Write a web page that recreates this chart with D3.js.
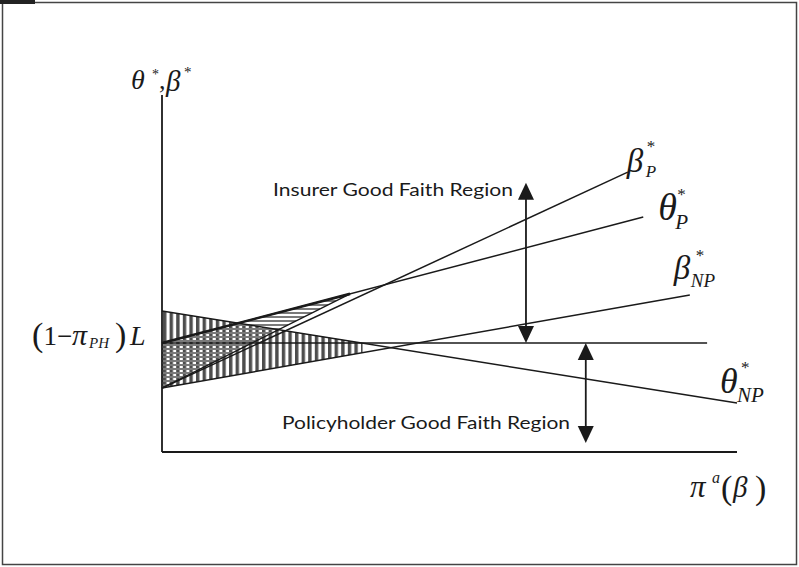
<!DOCTYPE html>
<html>
<head>
<meta charset="utf-8">
<script src="https://cdn.jsdelivr.net/npm/d3@7"></script>
<style>
  html, body { margin: 0; padding: 0; background: #fff; }
  svg { display: block; }
  .serif { font-family: "Liberation Serif", "DejaVu Serif", serif; fill: #1a1a1a; }
  .sans { font-family: Lato, "Open Sans", sans-serif; fill: #1a1a1a; }
</style>
</head>
<body>
<div id="chart"></div>
<script>
// Schema-Diagramm: Good-Faith-Regionen (Achsen ohne Skalenwerte, Einheiten 0..100)
const width = 799;
const height = 567;

// Linien: Wert bei x = 0 und Endpunkt
const lineNames = ["betaP", "thetaP", "betaNP", "thetaNP"];
const lineStartY = [17.9, 30.5, 17.9, 39.5];
const lineEndX = [81.0, 83.7, 91.8, 100];
const lineEndY = [78.4, 65.8, 44.0, 13.7];

// waagerechte Linie (1 - pi_PH) L
const baseLevel = 30.5;
const baseEndX = 94.8;

// Sehne vom Startpunkt der beta-Linien zur theta_P-Linie
const chordEndX = 32.7;

// Doppelpfeile
const arrowX = [63.3, 73.7];
const arrowFrom = [30.5, 30.5];
const arrowTo = [75.4, 2.5];

const regionLabels = ["Insurer Good Faith Region", "Policyholder Good Faith Region"];

const x = d3.scaleLinear().domain([0, 100]).range([162, 737]);
const y = d3.scaleLinear().domain([0, 100]).range([452, 95]);

// y-Wert einer Linie an Stelle xv
function lineAt(i, xv) {
  return lineStartY[i] + (lineEndY[i] - lineStartY[i]) / lineEndX[i] * xv;
}
const idx = (name) => lineNames.indexOf(name);

const svg = d3.select("#chart").append("svg")
  .attr("width", width)
  .attr("height", height);

// Rahmen
svg.append("rect")
  .attr("x", 2.5).attr("y", 2.5)
  .attr("width", 794).attr("height", 562)
  .attr("fill", "none").attr("stroke", "#444").attr("stroke-width", 1.5);
svg.append("rect")
  .attr("x", 0).attr("y", 0).attr("width", 35).attr("height", 4)
  .attr("fill", "#222");

// Schraffuren
const defs = svg.append("defs");
const vPat = defs.append("pattern")
  .attr("id", "vhatch").attr("patternUnits", "userSpaceOnUse")
  .attr("x", 163).attr("y", 0).attr("width", 6.6).attr("height", 10);
vPat.append("rect").attr("x", 0).attr("y", 0).attr("width", 3.4).attr("height", 10)
  .attr("fill", "#4d4d4d");

const hPat = defs.append("pattern")
  .attr("id", "hhatch").attr("patternUnits", "userSpaceOnUse")
  .attr("x", 0).attr("y", 0).attr("width", 10).attr("height", 4);
hPat.append("rect").attr("x", 0).attr("y", 0).attr("width", 10).attr("height", 2)
  .attr("fill", "#7a7a7a");

const tp = idx("thetaP"), tnp = idx("thetaNP"), bnp = idx("betaNP");
const xc = (lineStartY[tnp] - baseLevel) / ((lineStartY[tnp] - lineEndY[tnp]) / lineEndX[tnp]);

const vertPoly = [
  [0, lineStartY[tnp]],
  [xc, baseLevel],
  [xc, lineAt(bnp, xc)],
  [0, lineStartY[bnp]]
];
const horPoly = [
  [0, baseLevel],
  [chordEndX, lineAt(tp, chordEndX)],
  [0, lineStartY[0]]
];

const polyPath = (pts) => "M" + pts.map(p => `${x(p[0])},${y(p[1])}`).join("L") + "Z";

svg.append("path").attr("d", polyPath(vertPoly)).attr("fill", "url(#vhatch)");
svg.append("path").attr("d", polyPath(horPoly)).attr("fill", "url(#hhatch)");

// Achsen
svg.append("line")
  .attr("x1", x(0)).attr("y1", y(0)).attr("x2", x(0)).attr("y2", y(100))
  .attr("stroke", "#1a1a1a").attr("stroke-width", 1.8);
svg.append("line")
  .attr("x1", x(0)).attr("y1", y(0)).attr("x2", x(100)).attr("y2", y(0))
  .attr("stroke", "#1a1a1a").attr("stroke-width", 1.8);

// waagerechte Linie
svg.append("line")
  .attr("x1", x(0)).attr("y1", y(baseLevel)).attr("x2", x(baseEndX)).attr("y2", y(baseLevel))
  .attr("stroke", "#1a1a1a").attr("stroke-width", 1.5);

// Gleichgewichtslinien
svg.selectAll("line.curve")
  .data(lineNames)
  .enter().append("line")
  .attr("class", "curve")
  .attr("x1", x(0))
  .attr("y1", (d, i) => y(lineStartY[i]))
  .attr("x2", (d, i) => x(lineEndX[i]))
  .attr("y2", (d, i) => y(lineEndY[i]))
  .attr("stroke", "#1a1a1a").attr("stroke-width", 1.5);

// Sehne und verstärkte Oberkante
svg.append("line")
  .attr("x1", x(0)).attr("y1", y(lineStartY[0]))
  .attr("x2", x(chordEndX)).attr("y2", y(lineAt(tp, chordEndX)))
  .attr("stroke", "#1a1a1a").attr("stroke-width", 1.5);
svg.append("line")
  .attr("x1", x(0)).attr("y1", y(baseLevel))
  .attr("x2", x(chordEndX)).attr("y2", y(lineAt(tp, chordEndX)))
  .attr("stroke", "#1a1a1a").attr("stroke-width", 2.6);

// Doppelpfeile
const headH = 17, headW = 16;
arrowX.forEach((ax, i) => {
  const px = x(ax);
  const y1 = y(arrowFrom[i]), y2 = y(arrowTo[i]);
  const top = Math.min(y1, y2), bot = Math.max(y1, y2);
  svg.append("line")
    .attr("x1", px).attr("y1", top + headH - 2).attr("x2", px).attr("y2", bot - headH + 2)
    .attr("stroke", "#1a1a1a").attr("stroke-width", 1.8);
  svg.append("path")
    .attr("d", `M${px},${top}L${px - headW / 2},${top + headH}L${px + headW / 2},${top + headH}Z`)
    .attr("fill", "#1a1a1a");
  svg.append("path")
    .attr("d", `M${px},${bot}L${px - headW / 2},${bot - headH}L${px + headW / 2},${bot - headH}Z`)
    .attr("fill", "#1a1a1a");
});

// Regionsbeschriftungen
svg.append("text").attr("class", "sans")
  .attr("x", 273).attr("y", 196)
  .attr("font-size", 18)
  .attr("textLength", 240).attr("lengthAdjust", "spacingAndGlyphs")
  .text(regionLabels[0]);
svg.append("text").attr("class", "sans")
  .attr("x", 282).attr("y", 429)
  .attr("font-size", 18)
  .attr("textLength", 288).attr("lengthAdjust", "spacingAndGlyphs")
  .text(regionLabels[1]);

// Formel-Beschriftungen aus Einzelteilen
function formula(parts) {
  const t = svg.append("text").attr("class", "serif");
  parts.forEach(p => {
    t.append("tspan")
      .attr("x", p.x).attr("y", p.y)
      .attr("font-size", p.s)
      .attr("font-style", p.it ? "italic" : "normal")
      .text(p.t);
  });
}

// Linienbeschriftungen relativ zu den Linienenden
function lineLabel(i, main, sub, o) {
  const ex = x(lineEndX[i]), ey = y(lineEndY[i]);
  formula([
    { t: main, x: ex + o.mx, y: ey + o.my, s: o.ms, it: true },
    { t: "*", x: ex + o.ax, y: ey + o.ay, s: 17 },
    { t: sub, x: ex + o.sx, y: ey + o.sy, s: o.ss, it: true }
  ]);
}

lineLabel(0, "β", "P", { mx: -1, my: 0, ms: 33, ax: 19, ay: -20, sx: 18, sy: 5, ss: 17 });
lineLabel(1, "θ", "P", { mx: 15, my: 3, ms: 38, ax: 34, ay: -17, sx: 32, sy: 12, ss: 21 });
lineLabel(2, "β", "NP", { mx: -16, my: -16, ms: 33, ax: 6, ay: -34, sx: 1, sy: -8, ss: 19 });
lineLabel(3, "θ", "NP", { mx: -17, my: -10, ms: 36, ax: 4, ay: -30, sx: 0, sy: -1, ss: 21 });

// Achsenbeschriftungen
formula([
  { t: "θ", x: 131, y: 89, s: 28, it: true },
  { t: "*", x: 152, y: 79, s: 14 },
  { t: ",", x: 159, y: 89, s: 26 },
  { t: "β", x: 166, y: 91, s: 29, it: true },
  { t: "*", x: 184, y: 77, s: 15 }
]);

formula([
  { t: "π", x: 690, y: 497, s: 31, it: true },
  { t: "a", x: 712, y: 483, s: 16, it: true },
  { t: "(", x: 721, y: 499, s: 34 },
  { t: "β", x: 733, y: 497, s: 29, it: true },
  { t: ")", x: 755, y: 499, s: 34 }
]);

formula([
  { t: "(", x: 32, y: 346, s: 34 },
  { t: "1", x: 43.5, y: 345, s: 27 },
  { t: "−", x: 57, y: 345, s: 27 },
  { t: "π", x: 72, y: 345, s: 30, it: true },
  { t: "PH", x: 89, y: 348, s: 15, it: true },
  { t: ")", x: 115, y: 346, s: 34 },
  { t: "L", x: 130, y: 345, s: 28, it: true }
]);
</script>
</body>
</html>
